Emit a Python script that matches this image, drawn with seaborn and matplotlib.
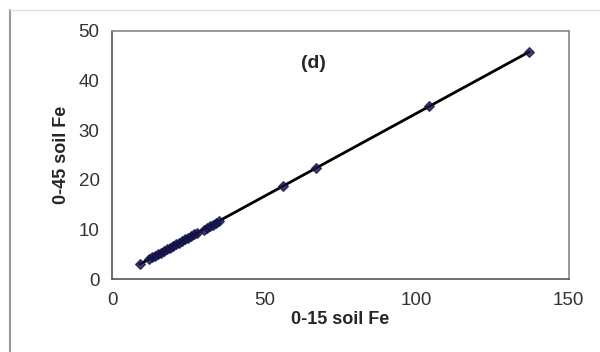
import numpy as np
import pandas as pd
import matplotlib
matplotlib.use("Agg")
import matplotlib.pyplot as plt
import seaborn as sns
from matplotlib.lines import Line2D

# 0-15 cm soil Fe vs 0-45 cm soil Fe
fe_0_15 = [9, 12, 13, 14, 15, 16, 17, 18, 19, 20, 21, 22, 23, 24, 25,
           26, 27, 28, 30, 31, 32, 33, 34, 35, 56, 67, 104, 137]
fe_0_45 = [3.0, 4.0, 4.4, 4.7, 5.0, 5.3, 5.7, 6.0, 6.3, 6.7, 7.0, 7.3, 7.7, 8.0, 8.3,
           8.7, 9.0, 9.3, 10.0, 10.3, 10.7, 11.0, 11.3, 11.7, 18.8, 22.3, 34.8, 45.8]
x_ticks = [0, 50, 100, 150]
y_ticks = [0, 10, 20, 30, 40, 50]
panel_label = "(d)"

sns.set_style("white")
plt.rcParams['font.family'] = ['Liberation Sans', 'DejaVu Sans']

df = pd.DataFrame({'x': fe_0_15, 'y': fe_0_45})

fig = plt.figure(figsize=(6.0, 3.52), dpi=100)
ax = fig.add_axes([0.187, 0.207, 0.761, 0.705])

sns.regplot(data=df, x='x', y='y', ax=ax, ci=None, truncate=True,
            marker='D', color='black',
            scatter_kws={'s': 24, 'color': '#14144a', 'zorder': 3},
            line_kws={'lw': 2, 'color': 'black', 'zorder': 2})

ax.set_xlim(0, 150)
ax.set_ylim(0, 50)
ax.set_xticks(x_ticks)
ax.set_yticks(y_ticks)
ax.tick_params(axis='both', labelsize=13.5, length=4, width=1, direction='out',
               colors='#333333', labelcolor='#333333', pad=5)
ax.tick_params(axis='x', pad=5)

for side in ['left', 'bottom']:
    ax.spines[side].set_color('#555555')
    ax.spines[side].set_linewidth(1.2)
for side in ['top', 'right']:
    ax.spines[side].set_color('#888888')
    ax.spines[side].set_linewidth(1.2)

ax.set_xlabel('0-15 soil Fe', fontsize=13, fontweight='bold', labelpad=2)
ax.set_ylabel('0-45 soil Fe', fontsize=13, fontweight='bold', labelpad=6)
ax.text(66, 43.5, panel_label, fontsize=14, fontweight='bold', ha='center', va='center')

# outer chart border (left and top visible)
fig.add_artist(Line2D([10 / 600, 10 / 600], [0, 1 - 10 / 352], color='#999999', lw=1.5))
fig.add_artist(Line2D([10 / 600, 1], [1 - 10 / 352, 1 - 10 / 352], color='#e0e0e0', lw=1))

fig.savefig('out.png', dpi=100)
